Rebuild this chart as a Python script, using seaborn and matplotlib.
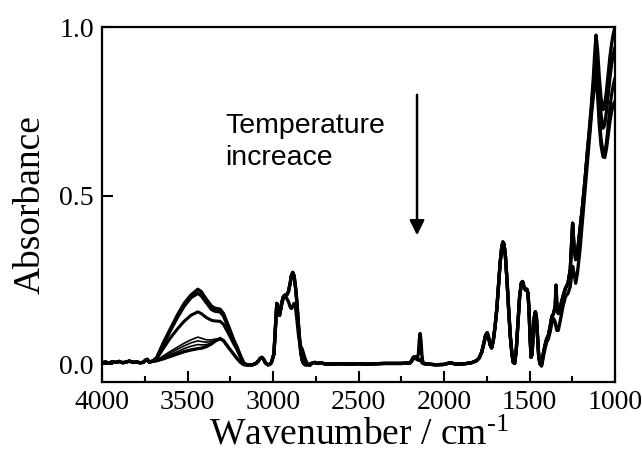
import numpy as np
import pandas as pd
import matplotlib
matplotlib.use("Agg")
import matplotlib.pyplot as plt
from matplotlib.ticker import MultipleLocator, FormatStrFormatter
import seaborn as sns

# ---- data (wavenumber in cm-1, absorbance) ----
# baseline 4000-3700
wn_base_hi = [4000, 3980, 3960, 3940, 3920, 3900, 3880, 3860, 3840, 3820, 3800, 3780, 3760, 3745, 3735, 3725, 3710]
abs_base_hi = [0.004, 0.006, 0.003, 0.007, 0.005, 0.008, 0.004, 0.006, 0.009, 0.005, 0.007, 0.004, 0.005, 0.012, 0.014, 0.006, 0.008]

# O-H band, one list per spectrum
wn_oh = [3700, 3680, 3640, 3600, 3560, 3520, 3480, 3440, 3420, 3390, 3360, 3340, 3310, 3290, 3260, 3230, 3210, 3190, 3170, 3150]
oh_1 = [0.010, 0.020, 0.065, 0.105, 0.145, 0.180, 0.205, 0.222, 0.215, 0.192, 0.172, 0.166, 0.163, 0.150, 0.112, 0.072, 0.050, 0.024, 0.002, -0.002]
oh_2 = [0.010, 0.018, 0.060, 0.100, 0.138, 0.172, 0.197, 0.210, 0.203, 0.182, 0.162, 0.157, 0.155, 0.143, 0.106, 0.068, 0.047, 0.022, 0.001, -0.002]
oh_3 = [0.010, 0.016, 0.048, 0.078, 0.104, 0.127, 0.145, 0.155, 0.150, 0.138, 0.130, 0.128, 0.127, 0.118, 0.090, 0.060, 0.042, 0.020, 0.001, -0.002]
oh_4 = [0.008, 0.012, 0.025, 0.038, 0.050, 0.062, 0.072, 0.080, 0.077, 0.072, 0.072, 0.074, 0.075, 0.068, 0.048, 0.028, 0.016, 0.005, -0.002, -0.003]
oh_5 = [0.008, 0.011, 0.022, 0.033, 0.044, 0.054, 0.063, 0.069, 0.067, 0.065, 0.067, 0.071, 0.074, 0.068, 0.048, 0.028, 0.016, 0.005, -0.002, -0.003]
oh_6 = [0.008, 0.010, 0.019, 0.028, 0.037, 0.046, 0.053, 0.058, 0.057, 0.058, 0.062, 0.068, 0.073, 0.068, 0.048, 0.028, 0.016, 0.005, -0.002, -0.003]
oh_7 = [0.008, 0.010, 0.016, 0.023, 0.030, 0.037, 0.042, 0.046, 0.047, 0.052, 0.060, 0.068, 0.076, 0.070, 0.049, 0.029, 0.016, 0.005, -0.002, -0.003]

# small band near 3066
wn_3066 = [3140, 3120, 3100, 3085, 3075, 3066, 3055, 3045, 3030, 3020]
abs_3066 = [-0.002, -0.002, 0.002, 0.010, 0.017, 0.020, 0.014, 0.004, -0.002, -0.001]

# C-H band, two shapes
wn_ch = [3010, 2995, 2985, 2978, 2970, 2962, 2950, 2940, 2930, 2920, 2910, 2900, 2893, 2885, 2877, 2868, 2860, 2852, 2845, 2838, 2830, 2822, 2812, 2800, 2785]
ch_high = [0.004, 0.030, 0.120, 0.180, 0.165, 0.145, 0.180, 0.200, 0.205, 0.205, 0.215, 0.240, 0.262, 0.272, 0.262, 0.225, 0.180, 0.120, 0.075, 0.035, 0.012, 0.002, -0.002, -0.002, 0.000]
ch_low = [0.004, 0.030, 0.120, 0.180, 0.165, 0.145, 0.175, 0.195, 0.203, 0.195, 0.185, 0.170, 0.165, 0.172, 0.180, 0.165, 0.130, 0.090, 0.065, 0.052, 0.045, 0.032, 0.015, 0.000, -0.004]

# flat region
wn_flat = [2770, 2755, 2740, 2720, 2700, 2650, 2600, 2550, 2500, 2450, 2400, 2350, 2300, 2250, 2215]
abs_flat = [0.003, 0.005, 0.002, 0.004, 0.001, 0.000, 0.001, 0.000, 0.001, 0.000, 0.001, 0.002, 0.002, 0.002, 0.003]

# CO band near 2140
wn_co = [2200, 2190, 2180, 2170, 2160, 2150, 2145, 2140, 2135, 2130, 2125, 2115, 2100]
co_peak = [0.003, 0.008, 0.015, 0.018, 0.014, 0.030, 0.070, 0.091, 0.070, 0.030, 0.008, 0.002, 0.000]
co_bump = [0.003, 0.010, 0.020, 0.022, 0.018, 0.012, 0.012, 0.014, 0.010, 0.006, 0.003, 0.001, 0.000]

# 2100-1440 region
wn_mid = [2090, 2050, 2000, 1965, 1930, 1880, 1840, 1810, 1795, 1780, 1768, 1757, 1748, 1740, 1731, 1722, 1712, 1702, 1692, 1682,
          1672, 1663, 1656, 1649, 1641, 1632, 1622, 1612, 1603, 1595, 1587, 1578, 1568, 1558, 1548, 1541, 1533, 1524, 1516, 1509,
          1503, 1497, 1491, 1485, 1479, 1472, 1466, 1460, 1453, 1446, 1438]
abs_mid = [0.000, -0.002, -0.001, 0.004, 0.000, 0.001, 0.004, 0.010, 0.018, 0.035, 0.060, 0.085, 0.093, 0.080, 0.058, 0.048, 0.070, 0.110, 0.160, 0.230,
           0.300, 0.345, 0.362, 0.355, 0.320, 0.250, 0.160, 0.080, 0.030, 0.005, 0.002, 0.040, 0.120, 0.200, 0.240, 0.245, 0.230, 0.220, 0.222, 0.210,
           0.160, 0.080, 0.020, 0.030, 0.090, 0.140, 0.155, 0.140, 0.080, 0.020, 0.000]

# 1430-1160, two shapes
wn_fp = [1430, 1420, 1410, 1400, 1390, 1380, 1370, 1360, 1350, 1345, 1340, 1332, 1320, 1305, 1290, 1275, 1262, 1255, 1248, 1240, 1230, 1220, 1205, 1190, 1175, 1160]
fp_a = [-0.003, 0.030, 0.055, 0.075, 0.085, 0.110, 0.140, 0.150, 0.170, 0.234, 0.170, 0.150, 0.170, 0.200, 0.225, 0.240, 0.280, 0.350, 0.418, 0.350, 0.310, 0.330, 0.400, 0.470, 0.550, 0.640]
fp_b = [-0.006, 0.020, 0.045, 0.065, 0.075, 0.095, 0.120, 0.135, 0.125, 0.110, 0.100, 0.100, 0.130, 0.170, 0.200, 0.210, 0.230, 0.260, 0.290, 0.270, 0.240, 0.270, 0.340, 0.430, 0.520, 0.610]

# Si-O region 1150-1000, four levels
wn_si = [1148, 1138, 1128, 1119, 1111, 1102, 1092, 1082, 1070, 1060, 1050, 1040, 1030, 1020, 1010, 1000]
si_1 = [0.71, 0.77, 0.84, 0.92, 0.976, 0.93, 0.85, 0.79, 0.755, 0.77, 0.81, 0.86, 0.91, 0.95, 0.98, 1.00]
si_2 = [0.70, 0.76, 0.82, 0.88, 0.915, 0.88, 0.80, 0.74, 0.700, 0.71, 0.75, 0.80, 0.85, 0.89, 0.92, 0.94]
si_3 = [0.69, 0.75, 0.80, 0.85, 0.875, 0.83, 0.74, 0.67, 0.630, 0.625, 0.66, 0.71, 0.76, 0.80, 0.83, 0.85]
si_4 = [0.68, 0.74, 0.79, 0.83, 0.850, 0.80, 0.71, 0.65, 0.615, 0.613, 0.64, 0.68, 0.72, 0.75, 0.77, 0.78]

# which pieces each spectrum is made of
oh_sets = [oh_1, oh_2, oh_3, oh_4, oh_5, oh_6, oh_7]
ch_sets = [ch_high, ch_high, ch_high, ch_low, ch_low, ch_low, ch_low]
co_sets = [co_bump, co_bump, co_bump, co_bump, co_bump, co_bump, co_peak]
fp_sets = [fp_a, fp_a, fp_a, fp_b, fp_b, fp_b, fp_b]
si_sets = [si_1, si_2, si_3, si_3, si_4, si_4, si_4]
line_widths = [2.4, 2.4, 2.2, 1.2, 1.2, 1.2, 2.4]

rows = []
wn_all = wn_base_hi + wn_oh + wn_3066 + wn_ch + wn_flat + wn_co + wn_mid + wn_fp + wn_si
for i in range(len(oh_sets)):
    ab = abs_base_hi + oh_sets[i] + abs_3066 + ch_sets[i] + abs_flat + co_sets[i] + abs_mid + fp_sets[i] + si_sets[i]
    for w, a in zip(wn_all, ab):
        rows.append({"spectrum": i, "wavenumber": w, "absorbance": a})
df = pd.DataFrame(rows)

sns.set_style("white")
plt.rcParams["font.family"] = ["Liberation Serif", "DejaVu Serif"]
plt.rcParams["mathtext.fontset"] = "custom"
plt.rcParams["mathtext.rm"] = "Liberation Serif"
plt.rcParams["mathtext.it"] = "Liberation Serif:italic"
for key in ["text.color", "axes.labelcolor", "xtick.color", "ytick.color", "axes.edgecolor"]:
    plt.rcParams[key] = "black"

fig = plt.figure(figsize=(6.42, 4.58), dpi=100)
ax = fig.add_axes([0.159, 0.166, 0.799, 0.775])

for i in range(len(oh_sets)):
    sns.lineplot(data=df[df["spectrum"] == i], x="wavenumber", y="absorbance",
                 color="black", linewidth=line_widths[i], sort=False, estimator=None,
                 ax=ax, solid_joinstyle="round")

ax.set_xlim(4000, 1000)
ax.set_ylim(-0.053, 1.0)
ax.xaxis.set_major_locator(MultipleLocator(500))
ax.xaxis.set_minor_locator(MultipleLocator(250))
ax.yaxis.set_major_locator(MultipleLocator(0.5))
ax.yaxis.set_major_formatter(FormatStrFormatter("%.1f"))
ax.tick_params(which="both", direction="in", width=1.5, bottom=True, left=True, top=False, right=False)
ax.tick_params(which="major", length=8, labelsize=20, pad=6)
ax.tick_params(which="minor", length=4.5)
for s in ax.spines.values():
    s.set_linewidth(1.6)
    s.set_color("black")

ax.set_xlabel("Wavenumber / cm$^{\\text{-1}}$", fontsize=27, labelpad=2)
ax.set_ylabel("Absorbance", fontsize=27, labelpad=8)

ax.text(3281, 0.685, "Temperature", fontsize=20.5, family="Liberation Sans", ha="left", va="baseline")
ax.text(3281, 0.590, "increace", fontsize=20.5, family="Liberation Sans", ha="left", va="baseline")
ax.annotate("", xy=(2158, 0.374), xytext=(2158, 0.807),
            arrowprops=dict(arrowstyle="-|>", color="black", lw=1.8, mutation_scale=22))

fig.savefig("out.png", dpi=100)
